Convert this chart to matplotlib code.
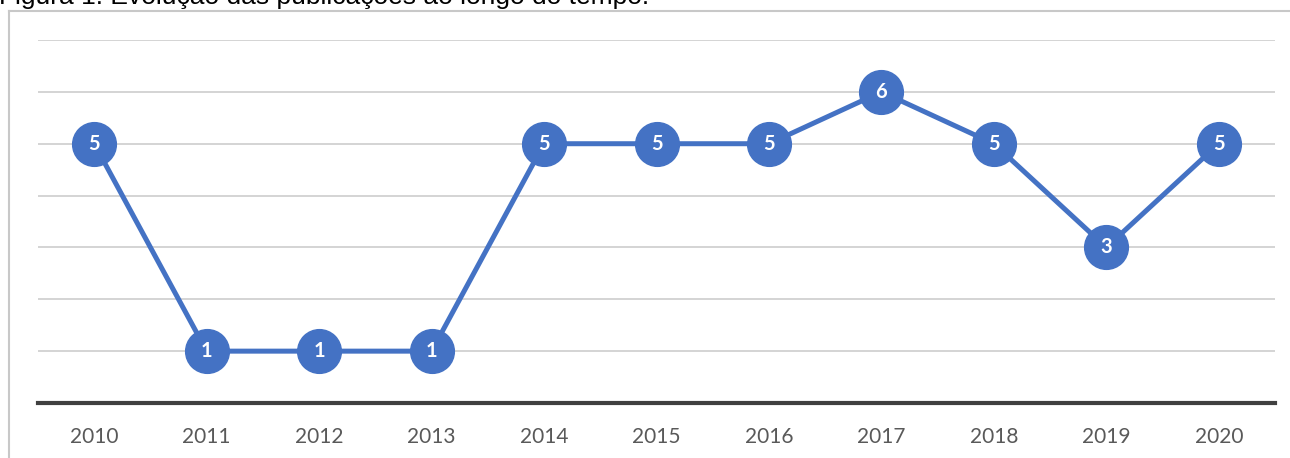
import matplotlib
matplotlib.use("Agg")
from matplotlib import pyplot as plt
from matplotlib.lines import Line2D

anos = ['2010', '2011', '2012', '2013', '2014', '2015', '2016', '2017', '2018', '2019', '2020']
publicacoes = [5, 1, 1, 1, 5, 5, 5, 6, 5, 3, 5]
titulo = 'Figura 1. Evolução das publicações ao longo do tempo.'

azul = '#4472C4'
W, H = 1290, 458

fig = plt.figure(figsize=(W / 100, H / 100), dpi=100)
# moldura cinza do grafico
fig.add_artist(Line2D([9 / W, 9 / W], [0, 1 - 11 / H], color='#c8c8c8', lw=1.5, transform=fig.transFigure))
fig.add_artist(Line2D([9 / W, 1], [1 - 11 / H, 1 - 11 / H], color='#c8c8c8', lw=1.5, transform=fig.transFigure))

# titulo cortado no topo, como na figura original
fig.text(-1 / W, 1 - 4 / H, titulo, fontsize=19, family='Liberation Sans', va='baseline', ha='left', color='#000000')

# eixo: y=0 em 403px, y=7 em 40px
ax = fig.add_axes([38 / W, 1 - 403 / H, (1275 - 38) / W, (403 - 40) / H])
x = list(range(len(anos)))
ax.set_xlim(-0.5, len(anos) - 0.5)
ax.set_ylim(0, 7)
for v in range(1, 8):
    ax.axhline(v, color='#d4d4d4', lw=1.4, zorder=0)
ax.axhline(0, color='#404040', lw=3, zorder=1, clip_on=False)

ax.plot(x, publicacoes, color=azul, lw=3.6, marker='o', markersize=31.5,
        markerfacecolor=azul, markeredgecolor=azul, zorder=3, clip_on=False)
for xi, v in zip(x, publicacoes):
    ax.text(xi, v, str(v), color='white', fontsize=14.5, fontweight='bold', family='Lato',
            ha='center', va='center', zorder=4)

ax.set_yticks([])
ax.set_xticks(x)
ax.set_xticklabels(anos, family='Lato', fontsize=15, color='#595959')
ax.tick_params(axis='x', length=0, pad=17)
for s in ax.spines.values():
    s.set_visible(False)

fig.savefig('out.png', dpi=100)
